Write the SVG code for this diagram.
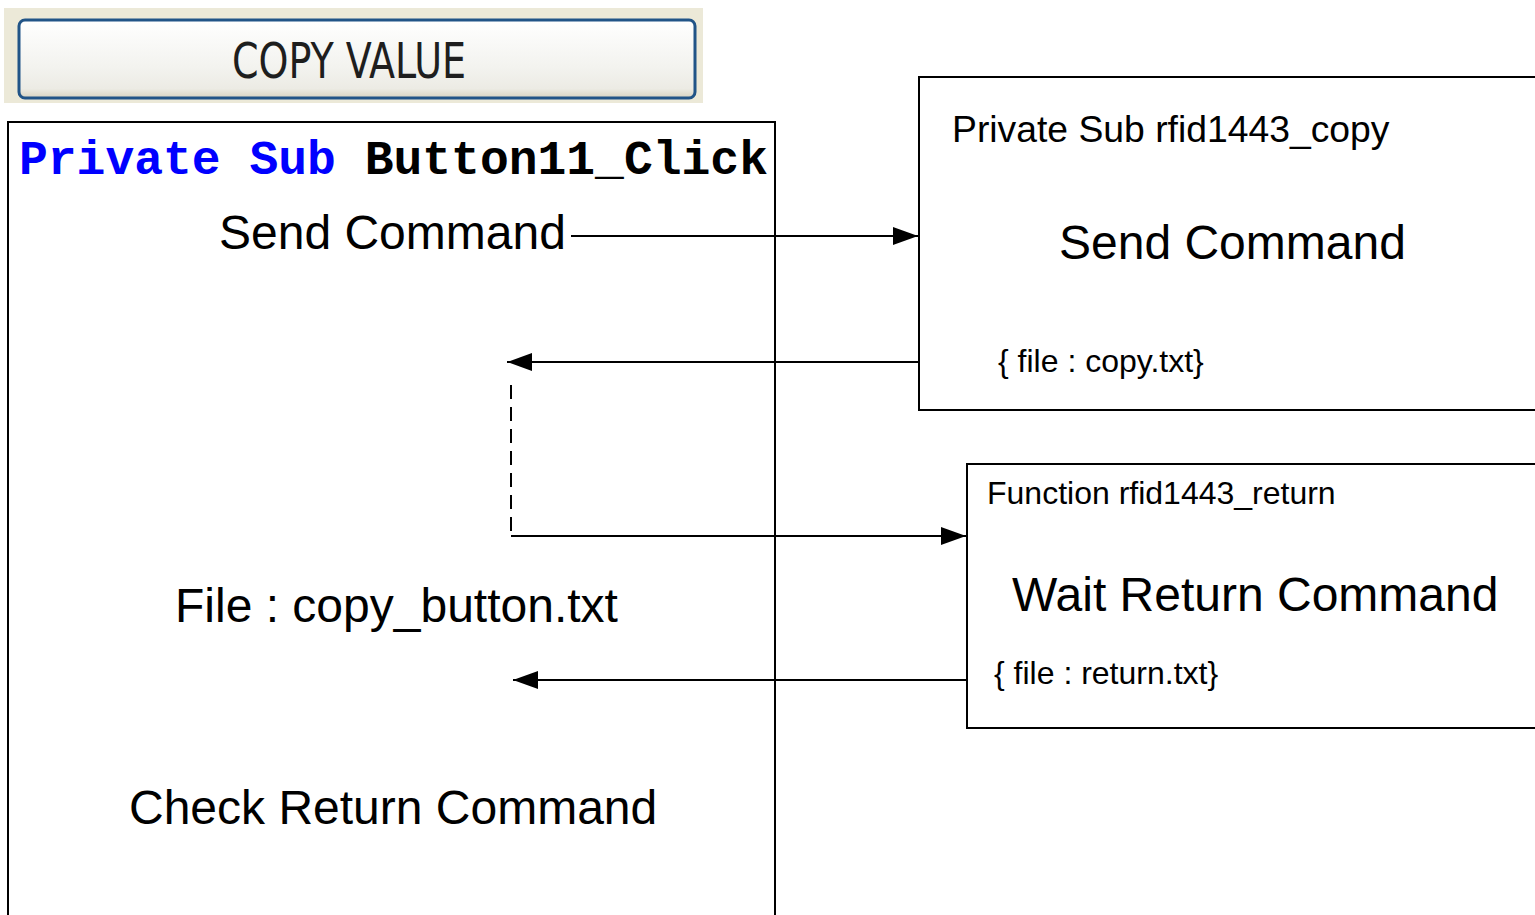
<svg xmlns="http://www.w3.org/2000/svg" width="1535" height="915" viewBox="0 0 1535 915">
  <defs>
    <linearGradient id="btnFace" x1="0" y1="0" x2="0" y2="1">
      <stop offset="0" stop-color="#ffffff"/>
      <stop offset="0.6" stop-color="#f3f3ef"/>
      <stop offset="0.88" stop-color="#ecebe4"/>
      <stop offset="1" stop-color="#d8d3c0"/>
    </linearGradient>
    <marker id="arrow" markerWidth="26" markerHeight="18" refX="25" refY="9" orient="auto" markerUnits="userSpaceOnUse">
      <path d="M0,0 L25,9 L0,18 Z" fill="#000"/>
    </marker>
    <style>
      .box { fill: #fff; stroke: #000; stroke-width: 2; }
      .sans { font-family: "Liberation Sans", Arial, sans-serif; fill: #000; }
      .big { font-size: 48px; }
      .mid { font-size: 37.3px; }
      .small { font-size: 32px; }
      .mono { font-family: "Liberation Mono", "Courier New", monospace; font-weight: bold; font-size: 48px; }
      .kw { fill: #0000ff; }
      .conn { fill: none; stroke: #000; stroke-width: 2; }
      .dash { stroke-dasharray: 14 8; }
    </style>
  </defs>

  <rect width="1535" height="915" fill="#fff"/>

  <!-- COPY VALUE button -->
  <g id="copy-value-button">
    <rect x="4" y="8" width="699" height="95" fill="#ece9d8"/>
    <rect x="19" y="20" width="676" height="78" rx="6" fill="url(#btnFace)" stroke="#215487" stroke-width="3"/>
    <text x="349" y="78" text-anchor="middle" font-family="'DejaVu Sans Condensed', 'Liberation Sans', sans-serif" font-size="50" fill="#1e1e1e" textLength="234" lengthAdjust="spacingAndGlyphs">COPY VALUE</text>
  </g>

  <!-- Button11_Click handler -->
  <g id="button11-click">
    <path class="box" d="M8,930 L8,122 L775,122 L775,930"/>
    <text class="mono" x="19" y="174"><tspan class="kw">Private Sub</tspan> Button11_Click</text>
    <text class="sans big" x="219" y="249">Send Command</text>
    <text class="sans big" x="175" y="622">File : copy_button.txt</text>
    <text class="sans big" x="129" y="824">Check Return Command</text>
  </g>

  <!-- rfid1443_copy sub -->
  <g id="rfid1443-copy">
    <path class="box" d="M1545,77 L919,77 L919,410 L1545,410"/>
    <text class="sans mid" x="952" y="142">Private Sub rfid1443_copy</text>
    <text class="sans big" x="1059" y="259">Send Command</text>
    <text class="sans small" x="998" y="372">{ file : copy.txt}</text>
  </g>

  <!-- rfid1443_return function -->
  <g id="rfid1443-return">
    <path class="box" d="M1545,464 L967,464 L967,728 L1545,728"/>
    <text class="sans small" x="987" y="504">Function rfid1443_return</text>
    <text class="sans big" x="1012" y="611">Wait Return Command</text>
    <text class="sans small" x="994" y="684">{ file : return.txt}</text>
  </g>

  <!-- connectors -->
  <g id="connectors">
    <path class="conn" d="M571,236 L918,236" marker-end="url(#arrow)"/>
    <path class="conn" d="M919,362 L507,362" marker-end="url(#arrow)"/>
    <path class="conn dash" d="M511,385 L511,536"/>
    <path class="conn" d="M511,536 L966,536" marker-end="url(#arrow)"/>
    <path class="conn" d="M967,680 L513,680" marker-end="url(#arrow)"/>
  </g>
</svg>
